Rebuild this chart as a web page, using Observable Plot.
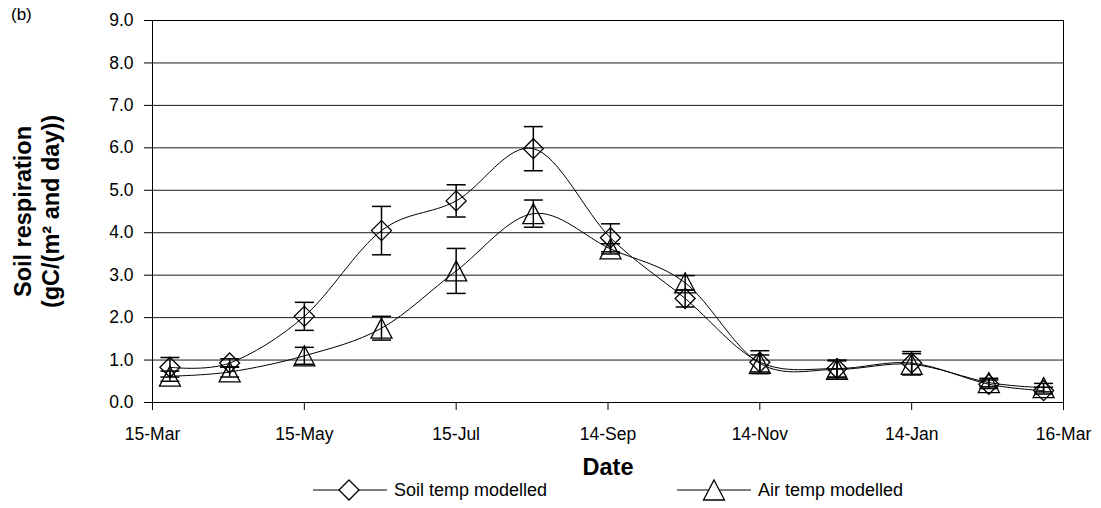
<!DOCTYPE html>
<html>
<head>
<meta charset="utf-8">
<script src="https://cdn.jsdelivr.net/npm/d3@7"></script>
<script src="https://cdn.jsdelivr.net/npm/@observablehq/plot@0.6"></script>
<style>
  html, body { margin: 0; padding: 0; background: #fff; }
  body { width: 1101px; height: 508px; overflow: hidden; font-family: "Liberation Sans", Arial, sans-serif; position: relative; }
  #tag { position: absolute; left: 11px; top: 5px; font-size: 17px; }
  [aria-label="y-axis label"], [aria-label="x-axis label"] { font-weight: bold; font-size: 23.5px; }
  #legend { position: relative; height: 26px; width: 1101px; font-size: 18px; }
  .item { position: absolute; top: 0; display: flex; align-items: center; height: 16px; }
  .item svg { display: block; }
  .item span { margin-left: 7px; }
</style>
</head>
<body>
<div id="tag">(b)</div>
<div id="chart"></div>
<div id="legend"></div>
<script>
// Data
const dates = ["2002-03-22","2002-04-15","2002-05-15","2002-06-15","2002-07-15","2002-08-15",
               "2002-09-15","2002-10-15","2002-11-14","2002-12-15","2003-01-14","2003-02-14","2003-03-08"];
const soilTemp = [0.83, 0.93, 2.03, 4.05, 4.75, 5.98, 3.88, 2.45, 0.95, 0.80, 0.93, 0.43, 0.28];
const soilErr  = [0.23, 0.10, 0.33, 0.57, 0.38, 0.52, 0.33, 0.20, 0.27, 0.20, 0.27, 0.10, 0.08];
const airTemp  = [0.62, 0.72, 1.10, 1.75, 3.10, 4.45, 3.62, 2.82, 0.92, 0.78, 0.90, 0.47, 0.35];
const airErr   = [0.12, 0.12, 0.20, 0.28, 0.53, 0.32, 0.12, 0.17, 0.20, 0.20, 0.25, 0.10, 0.10];
const seriesNames = ["Soil temp modelled", "Air temp modelled"];
const xTickDates = ["2002-03-15","2002-05-15","2002-07-15","2002-09-14","2002-11-14","2003-01-14","2003-03-16"];
const yTicks = [0,1,2,3,4,5,6,7,8,9];

const parse = s => new Date(s + "T00:00:00Z");
const soil = dates.map((d, i) => ({date: parse(d), v: soilTemp[i], e: soilErr[i]}));
const air  = dates.map((d, i) => ({date: parse(d), v: airTemp[i],  e: airErr[i]}));

// marker shapes (styles)
const diamond = { draw(ctx) { const r = 10; ctx.moveTo(0,-r); ctx.lineTo(r,0); ctx.lineTo(0,r); ctx.lineTo(-r,0); ctx.closePath(); } };
const triangle = { draw(ctx) { ctx.moveTo(0,-10); ctx.lineTo(10.5,10); ctx.lineTo(-10.5,10); ctx.closePath(); } };
const cap = { draw(ctx) { ctx.moveTo(-9.5,0); ctx.lineTo(9.5,0); } };
const smooth = d3.curveCatmullRom.alpha(0);

function errMarks(data) {
  return [
    Plot.ruleX(data, {x: "date", y1: d => d.v - d.e, y2: d => d.v + d.e, stroke: "black", strokeWidth: 1.5}),
    Plot.dot(data, {x: "date", y: d => d.v + d.e, symbol: cap, r: 5, fill: "none", stroke: "black", strokeWidth: 1.5}),
    Plot.dot(data, {x: "date", y: d => d.v - d.e, symbol: cap, r: 5, fill: "none", stroke: "black", strokeWidth: 1.5})
  ];
}

const chart = Plot.plot({
  width: 1101,
  height: 482,
  marginLeft: 152,
  marginRight: 38,
  marginTop: 20,
  marginBottom: 80,
  style: {fontFamily: "'Liberation Sans', Arial, sans-serif", fontSize: "17.5px", color: "black", background: "white", overflow: "visible"},
  x: {type: "utc", domain: [parse("2002-03-15"), parse("2003-03-16")]},
  y: {domain: [0, 9]},
  marks: [
    Plot.gridY(yTicks, {stroke: "black", strokeOpacity: 0.9, strokeWidth: 1}),
    Plot.line(soil, {x: "date", y: "v", curve: smooth, stroke: "black", strokeWidth: 1}),
    Plot.line(air,  {x: "date", y: "v", curve: smooth, stroke: "black", strokeWidth: 1}),
    ...errMarks(soil),
    ...errMarks(air),
    Plot.dot(soil, {x: "date", y: "v", symbol: diamond, r: 6, fill: "none", stroke: "black", strokeWidth: 1.3}),
    Plot.dot(air,  {x: "date", y: "v", symbol: triangle, r: 6, fill: "none", stroke: "black", strokeWidth: 1.3}),
    Plot.frame({stroke: "black"}),
    Plot.axisY(yTicks, {
      tickFormat: d => d.toFixed(1), tickSize: 8, tickPadding: 11,
      label: "Soil respiration\n(gC/(m² and day))", labelAnchor: "center", labelOffset: 138, labelArrow: "none"
    }),
    Plot.axisX(xTickDates.map(parse), {
      tickFormat: d3.utcFormat("%-d-%b"), tickSize: 8, tickPadding: 17,
      label: "Date", labelAnchor: "center", labelOffset: 72, labelArrow: "none"
    })
  ]
});
document.getElementById("chart").appendChild(chart);

// widen spacing between the two y-label lines
d3.select(chart).selectAll('[aria-label="y-axis label"] tspan').each(function(d, i) {
  if (i > 0) d3.select(this).attr("dy", "1.2em");
});

// Legend (HTML below the SVG)
const legend = document.getElementById("legend");
const items = [
  {name: seriesNames[0], left: 313, shape: "M36,-10 L46,0 L36,10 L26,0 Z"},
  {name: seriesNames[1], left: 677, shape: "M37,-10 L47.5,10 L26.5,10 Z"}
];
for (const it of items) {
  const div = document.createElement("div");
  div.className = "item";
  div.style.left = it.left + "px";
  div.innerHTML = `<svg width="74" height="24" viewBox="0 -12 74 24" style="overflow:visible">
      <line x1="0" y1="0" x2="74" y2="0" stroke="black" stroke-width="1"/>
      <path d="${it.shape}" fill="white" stroke="black" stroke-width="1.3"/>
    </svg><span>${it.name}</span>`;
  legend.appendChild(div);
}
</script>
</body>
</html>
